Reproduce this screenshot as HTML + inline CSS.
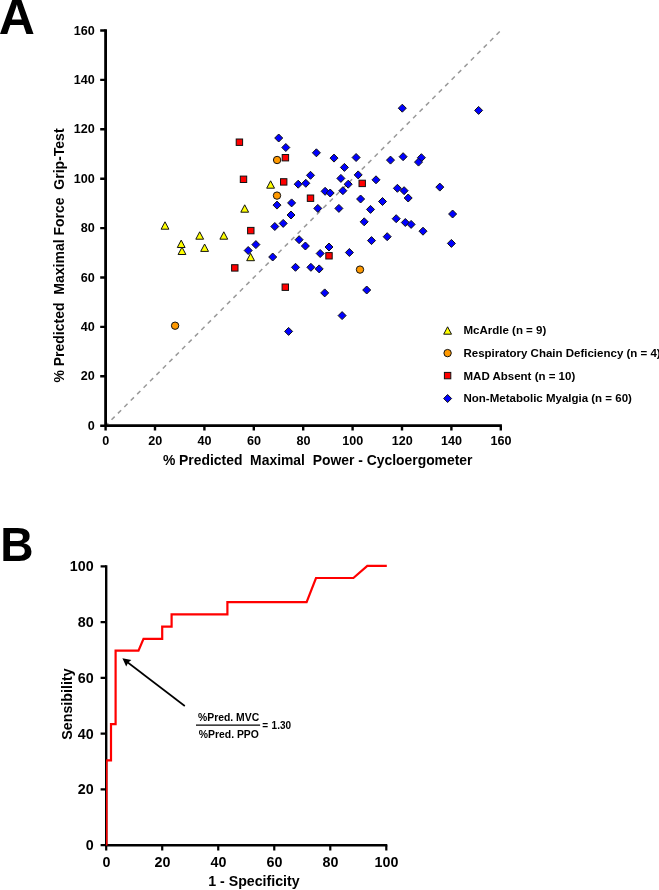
<!DOCTYPE html>
<html><head><meta charset="utf-8"><style>
html,body{margin:0;padding:0;background:#fff;}
body{width:659px;height:890px;overflow:hidden;}
svg{display:block;}
text{font-family:"Liberation Sans", sans-serif;font-weight:bold;fill:#000;}
</style></head><body>
<svg width="659" height="890" viewBox="0 0 659 890">
<defs><filter id="gs" x="-5%" y="-5%" width="110%" height="110%"><feColorMatrix type="saturate" values="0"/></filter></defs>
<rect width="659" height="890" fill="#fff"/>
<line x1="105.60" y1="425.70" x2="500.80" y2="30.50" stroke="#999" stroke-width="1.5" stroke-dasharray="4.5 4.575" stroke-dashoffset="0.725"/>
<path d="M105.60 29.30V425.70H501.90" fill="none" stroke="#000" stroke-width="2.8" stroke-linejoin="miter" stroke-linecap="butt"/>
<path d="M100.2 425.70H105.60M105.60 425.70V430.4M100.2 376.30H105.60M155.00 425.70V430.4M100.2 326.90H105.60M204.40 425.70V430.4M100.2 277.50H105.60M253.80 425.70V430.4M100.2 228.10H105.60M303.20 425.70V430.4M100.2 178.70H105.60M352.60 425.70V430.4M100.2 129.30H105.60M402.00 425.70V430.4M100.2 79.90H105.60M451.40 425.70V430.4M100.2 30.50H105.60M500.80 425.70V430.4" stroke="#000" stroke-width="2.4" fill="none"/>
<path d="M270.60 180.80L274.50 188.20L266.70 188.20Z" fill="#FFFF00" stroke="#111" stroke-width="1.0" stroke-linejoin="miter"/>
<path d="M244.70 204.80L248.60 212.20L240.80 212.20Z" fill="#FFFF00" stroke="#111" stroke-width="1.0" stroke-linejoin="miter"/>
<path d="M165.00 221.80L168.90 229.20L161.10 229.20Z" fill="#FFFF00" stroke="#111" stroke-width="1.0" stroke-linejoin="miter"/>
<path d="M199.70 231.80L203.60 239.20L195.80 239.20Z" fill="#FFFF00" stroke="#111" stroke-width="1.0" stroke-linejoin="miter"/>
<path d="M223.80 231.80L227.70 239.20L219.90 239.20Z" fill="#FFFF00" stroke="#111" stroke-width="1.0" stroke-linejoin="miter"/>
<path d="M181.20 240.10L185.10 247.50L177.30 247.50Z" fill="#FFFF00" stroke="#111" stroke-width="1.0" stroke-linejoin="miter"/>
<path d="M182.00 247.10L185.90 254.50L178.10 254.50Z" fill="#FFFF00" stroke="#111" stroke-width="1.0" stroke-linejoin="miter"/>
<path d="M204.60 244.00L208.50 251.40L200.70 251.40Z" fill="#FFFF00" stroke="#111" stroke-width="1.0" stroke-linejoin="miter"/>
<path d="M250.60 253.30L254.50 260.70L246.70 260.70Z" fill="#FFFF00" stroke="#111" stroke-width="1.0" stroke-linejoin="miter"/>
<circle cx="277.10" cy="160.00" r="3.7" fill="#FF9900" stroke="#111" stroke-width="1.0"/>
<circle cx="277.00" cy="195.60" r="3.7" fill="#FF9900" stroke="#111" stroke-width="1.0"/>
<circle cx="175.10" cy="325.70" r="3.7" fill="#FF9900" stroke="#111" stroke-width="1.0"/>
<circle cx="360.00" cy="269.60" r="3.7" fill="#FF9900" stroke="#111" stroke-width="1.0"/>
<rect x="236.20" y="139.00" width="6.4" height="6.4" fill="#FF0000" stroke="#111" stroke-width="1.0"/>
<rect x="240.30" y="176.10" width="6.4" height="6.4" fill="#FF0000" stroke="#111" stroke-width="1.0"/>
<rect x="247.60" y="227.40" width="6.4" height="6.4" fill="#FF0000" stroke="#111" stroke-width="1.0"/>
<rect x="231.60" y="264.70" width="6.4" height="6.4" fill="#FF0000" stroke="#111" stroke-width="1.0"/>
<rect x="282.20" y="154.50" width="6.4" height="6.4" fill="#FF0000" stroke="#111" stroke-width="1.0"/>
<rect x="280.50" y="178.70" width="6.4" height="6.4" fill="#FF0000" stroke="#111" stroke-width="1.0"/>
<rect x="359.00" y="180.20" width="6.4" height="6.4" fill="#FF0000" stroke="#111" stroke-width="1.0"/>
<rect x="307.30" y="195.00" width="6.4" height="6.4" fill="#FF0000" stroke="#111" stroke-width="1.0"/>
<rect x="325.80" y="252.60" width="6.4" height="6.4" fill="#FF0000" stroke="#111" stroke-width="1.0"/>
<rect x="282.10" y="284.00" width="6.4" height="6.4" fill="#FF0000" stroke="#111" stroke-width="1.0"/>
<path d="M278.70 134.00L282.70 138.00L278.70 142.00L274.70 138.00Z" fill="#0000FF" stroke="#111" stroke-width="1.0"/>
<path d="M285.80 143.50L289.80 147.50L285.80 151.50L281.80 147.50Z" fill="#0000FF" stroke="#111" stroke-width="1.0"/>
<path d="M316.40 148.80L320.40 152.80L316.40 156.80L312.40 152.80Z" fill="#0000FF" stroke="#111" stroke-width="1.0"/>
<path d="M334.00 154.10L338.00 158.10L334.00 162.10L330.00 158.10Z" fill="#0000FF" stroke="#111" stroke-width="1.0"/>
<path d="M356.10 153.50L360.10 157.50L356.10 161.50L352.10 157.50Z" fill="#0000FF" stroke="#111" stroke-width="1.0"/>
<path d="M390.50 156.10L394.50 160.10L390.50 164.10L386.50 160.10Z" fill="#0000FF" stroke="#111" stroke-width="1.0"/>
<path d="M344.40 163.40L348.40 167.40L344.40 171.40L340.40 167.40Z" fill="#0000FF" stroke="#111" stroke-width="1.0"/>
<path d="M310.50 171.30L314.50 175.30L310.50 179.30L306.50 175.30Z" fill="#0000FF" stroke="#111" stroke-width="1.0"/>
<path d="M340.90 174.40L344.90 178.40L340.90 182.40L336.90 178.40Z" fill="#0000FF" stroke="#111" stroke-width="1.0"/>
<path d="M358.20 170.90L362.20 174.90L358.20 178.90L354.20 174.90Z" fill="#0000FF" stroke="#111" stroke-width="1.0"/>
<path d="M376.00 175.80L380.00 179.80L376.00 183.80L372.00 179.80Z" fill="#0000FF" stroke="#111" stroke-width="1.0"/>
<path d="M298.20 180.20L302.20 184.20L298.20 188.20L294.20 184.20Z" fill="#0000FF" stroke="#111" stroke-width="1.0"/>
<path d="M305.80 179.30L309.80 183.30L305.80 187.30L301.80 183.30Z" fill="#0000FF" stroke="#111" stroke-width="1.0"/>
<path d="M348.20 180.20L352.20 184.20L348.20 188.20L344.20 184.20Z" fill="#0000FF" stroke="#111" stroke-width="1.0"/>
<path d="M325.10 187.30L329.10 191.30L325.10 195.30L321.10 191.30Z" fill="#0000FF" stroke="#111" stroke-width="1.0"/>
<path d="M330.20 189.00L334.20 193.00L330.20 197.00L326.20 193.00Z" fill="#0000FF" stroke="#111" stroke-width="1.0"/>
<path d="M342.90 186.70L346.90 190.70L342.90 194.70L338.90 190.70Z" fill="#0000FF" stroke="#111" stroke-width="1.0"/>
<path d="M360.60 195.00L364.60 199.00L360.60 203.00L356.60 199.00Z" fill="#0000FF" stroke="#111" stroke-width="1.0"/>
<path d="M382.50 197.50L386.50 201.50L382.50 205.50L378.50 201.50Z" fill="#0000FF" stroke="#111" stroke-width="1.0"/>
<path d="M277.00 201.10L281.00 205.10L277.00 209.10L273.00 205.10Z" fill="#0000FF" stroke="#111" stroke-width="1.0"/>
<path d="M291.60 198.90L295.60 202.90L291.60 206.90L287.60 202.90Z" fill="#0000FF" stroke="#111" stroke-width="1.0"/>
<path d="M317.80 204.40L321.80 208.40L317.80 212.40L313.80 208.40Z" fill="#0000FF" stroke="#111" stroke-width="1.0"/>
<path d="M338.90 204.40L342.90 208.40L338.90 212.40L334.90 208.40Z" fill="#0000FF" stroke="#111" stroke-width="1.0"/>
<path d="M370.50 205.40L374.50 209.40L370.50 213.40L366.50 209.40Z" fill="#0000FF" stroke="#111" stroke-width="1.0"/>
<path d="M291.00 211.00L295.00 215.00L291.00 219.00L287.00 215.00Z" fill="#0000FF" stroke="#111" stroke-width="1.0"/>
<path d="M364.20 217.80L368.20 221.80L364.20 225.80L360.20 221.80Z" fill="#0000FF" stroke="#111" stroke-width="1.0"/>
<path d="M283.20 219.40L287.20 223.40L283.20 227.40L279.20 223.40Z" fill="#0000FF" stroke="#111" stroke-width="1.0"/>
<path d="M274.80 222.50L278.80 226.50L274.80 230.50L270.80 226.50Z" fill="#0000FF" stroke="#111" stroke-width="1.0"/>
<path d="M402.30 104.20L406.30 108.20L402.30 112.20L398.30 108.20Z" fill="#0000FF" stroke="#111" stroke-width="1.0"/>
<path d="M478.60 106.40L482.60 110.40L478.60 114.40L474.60 110.40Z" fill="#0000FF" stroke="#111" stroke-width="1.0"/>
<path d="M403.10 152.70L407.10 156.70L403.10 160.70L399.10 156.70Z" fill="#0000FF" stroke="#111" stroke-width="1.0"/>
<path d="M421.40 153.70L425.40 157.70L421.40 161.70L417.40 157.70Z" fill="#0000FF" stroke="#111" stroke-width="1.0"/>
<path d="M418.50 158.10L422.50 162.10L418.50 166.10L414.50 162.10Z" fill="#0000FF" stroke="#111" stroke-width="1.0"/>
<path d="M397.40 184.30L401.40 188.30L397.40 192.30L393.40 188.30Z" fill="#0000FF" stroke="#111" stroke-width="1.0"/>
<path d="M404.10 186.70L408.10 190.70L404.10 194.70L400.10 190.70Z" fill="#0000FF" stroke="#111" stroke-width="1.0"/>
<path d="M408.20 194.00L412.20 198.00L408.20 202.00L404.20 198.00Z" fill="#0000FF" stroke="#111" stroke-width="1.0"/>
<path d="M439.80 183.10L443.80 187.10L439.80 191.10L435.80 187.10Z" fill="#0000FF" stroke="#111" stroke-width="1.0"/>
<path d="M452.60 210.00L456.60 214.00L452.60 218.00L448.60 214.00Z" fill="#0000FF" stroke="#111" stroke-width="1.0"/>
<path d="M396.20 214.70L400.20 218.70L396.20 222.70L392.20 218.70Z" fill="#0000FF" stroke="#111" stroke-width="1.0"/>
<path d="M405.30 218.50L409.30 222.50L405.30 226.50L401.30 222.50Z" fill="#0000FF" stroke="#111" stroke-width="1.0"/>
<path d="M411.10 220.40L415.10 224.40L411.10 228.40L407.10 224.40Z" fill="#0000FF" stroke="#111" stroke-width="1.0"/>
<path d="M255.90 240.60L259.90 244.60L255.90 248.60L251.90 244.60Z" fill="#0000FF" stroke="#111" stroke-width="1.0"/>
<path d="M248.20 246.50L252.20 250.50L248.20 254.50L244.20 250.50Z" fill="#0000FF" stroke="#111" stroke-width="1.0"/>
<path d="M272.70 253.00L276.70 257.00L272.70 261.00L268.70 257.00Z" fill="#0000FF" stroke="#111" stroke-width="1.0"/>
<path d="M371.50 236.60L375.50 240.60L371.50 244.60L367.50 240.60Z" fill="#0000FF" stroke="#111" stroke-width="1.0"/>
<path d="M387.20 232.70L391.20 236.70L387.20 240.70L383.20 236.70Z" fill="#0000FF" stroke="#111" stroke-width="1.0"/>
<path d="M299.10 235.70L303.10 239.70L299.10 243.70L295.10 239.70Z" fill="#0000FF" stroke="#111" stroke-width="1.0"/>
<path d="M305.40 242.00L309.40 246.00L305.40 250.00L301.40 246.00Z" fill="#0000FF" stroke="#111" stroke-width="1.0"/>
<path d="M329.00 243.00L333.00 247.00L329.00 251.00L325.00 247.00Z" fill="#0000FF" stroke="#111" stroke-width="1.0"/>
<path d="M320.20 249.50L324.20 253.50L320.20 257.50L316.20 253.50Z" fill="#0000FF" stroke="#111" stroke-width="1.0"/>
<path d="M349.40 248.50L353.40 252.50L349.40 256.50L345.40 252.50Z" fill="#0000FF" stroke="#111" stroke-width="1.0"/>
<path d="M295.50 263.30L299.50 267.30L295.50 271.30L291.50 267.30Z" fill="#0000FF" stroke="#111" stroke-width="1.0"/>
<path d="M310.90 263.30L314.90 267.30L310.90 271.30L306.90 267.30Z" fill="#0000FF" stroke="#111" stroke-width="1.0"/>
<path d="M319.20 264.90L323.20 268.90L319.20 272.90L315.20 268.90Z" fill="#0000FF" stroke="#111" stroke-width="1.0"/>
<path d="M366.70 286.00L370.70 290.00L366.70 294.00L362.70 290.00Z" fill="#0000FF" stroke="#111" stroke-width="1.0"/>
<path d="M324.70 288.90L328.70 292.90L324.70 296.90L320.70 292.90Z" fill="#0000FF" stroke="#111" stroke-width="1.0"/>
<path d="M342.10 311.60L346.10 315.60L342.10 319.60L338.10 315.60Z" fill="#0000FF" stroke="#111" stroke-width="1.0"/>
<path d="M288.60 327.40L292.60 331.40L288.60 335.40L284.60 331.40Z" fill="#0000FF" stroke="#111" stroke-width="1.0"/>
<path d="M423.00 227.20L427.00 231.20L423.00 235.20L419.00 231.20Z" fill="#0000FF" stroke="#111" stroke-width="1.0"/>
<path d="M451.40 239.40L455.40 243.40L451.40 247.40L447.40 243.40Z" fill="#0000FF" stroke="#111" stroke-width="1.0"/>
<path d="M447.60 326.80L451.50 334.20L443.70 334.20Z" fill="#FFFF00" stroke="#111" stroke-width="1.0" stroke-linejoin="miter"/>
<circle cx="447.60" cy="353.10" r="3.7" fill="#FF9900" stroke="#111" stroke-width="1.0"/>
<rect x="444.40" y="372.40" width="6.4" height="6.4" fill="#FF0000" stroke="#111" stroke-width="1.0"/>
<path d="M447.60 394.50L451.60 398.50L447.60 402.50L443.60 398.50Z" fill="#0000FF" stroke="#111" stroke-width="1.0"/>
<path d="M106.20 565.30V845.20H387.30" fill="none" stroke="#000" stroke-width="2.4"/>
<path d="M100.6 845.20H106.20M106.20 845.20V850.6M100.6 789.44H106.20M162.22 845.20V850.6M100.6 733.68H106.20M218.24 845.20V850.6M100.6 677.92H106.20M274.26 845.20V850.6M100.6 622.16H106.20M330.28 845.20V850.6M100.6 566.40H106.20M386.30 845.20V850.6" stroke="#000" stroke-width="2.2" fill="none"/>
<path d="M106.20 760.40L111.00 760.40L111.00 724.20L115.60 724.20L115.60 650.60L138.50 650.60L143.50 638.80L162.20 638.80L162.20 626.60L171.60 626.60L171.60 614.30L227.40 614.30L227.40 602.20L306.60 602.20L316.00 578.00L353.40 578.00L367.30 565.90L386.80 565.90" fill="none" stroke="#FF0000" stroke-width="2.2" stroke-linejoin="miter"/>
<path d="M106.8 845.6V760.4" stroke="#FF0000" stroke-width="1.5" fill="none"/>
<line x1="184.8" y1="706.0" x2="126.5" y2="661.5" stroke="#000" stroke-width="1.6"/>
<path d="M122.4 658.3L131.4 660.0L128.2 662.4L126.2 666.6Z" fill="#000"/>
<line x1="196" y1="725.1" x2="260.1" y2="725.1" stroke="#000" stroke-width="1.2"/>
<g filter="url(#gs)"><text x="-1.3" y="33.7" font-size="50">A</text>
<text x="94.8" y="429.80" font-size="12.6" text-anchor="end">0</text>
<text x="105.80" y="444.8" font-size="12.6" text-anchor="middle">0</text>
<text x="94.8" y="380.40" font-size="12.6" text-anchor="end">20</text>
<text x="155.20" y="444.8" font-size="12.6" text-anchor="middle">20</text>
<text x="94.8" y="331.00" font-size="12.6" text-anchor="end">40</text>
<text x="204.60" y="444.8" font-size="12.6" text-anchor="middle">40</text>
<text x="94.8" y="281.60" font-size="12.6" text-anchor="end">60</text>
<text x="254.00" y="444.8" font-size="12.6" text-anchor="middle">60</text>
<text x="94.8" y="232.20" font-size="12.6" text-anchor="end">80</text>
<text x="303.40" y="444.8" font-size="12.6" text-anchor="middle">80</text>
<text x="94.8" y="182.80" font-size="12.6" text-anchor="end">100</text>
<text x="352.80" y="444.8" font-size="12.6" text-anchor="middle">100</text>
<text x="94.8" y="133.40" font-size="12.6" text-anchor="end">120</text>
<text x="402.20" y="444.8" font-size="12.6" text-anchor="middle">120</text>
<text x="94.8" y="84.00" font-size="12.6" text-anchor="end">140</text>
<text x="451.60" y="444.8" font-size="12.6" text-anchor="middle">140</text>
<text x="94.8" y="34.60" font-size="12.6" text-anchor="end">160</text>
<text x="501.00" y="444.8" font-size="12.6" text-anchor="middle">160</text>
<text x="162.9" y="464.8" font-size="13.9" xml:space="preserve">% Predicted  Maximal  Power - Cycloergometer</text>
<text transform="translate(64.2 382.6) rotate(-90)" x="0" y="0" font-size="14" xml:space="preserve">% Predicted  Maximal Force  Grip-Test</text>
<text x="463.5" y="334.20" font-size="11.5">McArdle (n = 9)</text>
<text x="463.5" y="356.85" font-size="11.5">Respiratory Chain Deficiency (n = 4)</text>
<text x="463.5" y="379.50" font-size="11.5">MAD Absent (n = 10)</text>
<text x="463.5" y="402.15" font-size="11.5">Non-Metabolic Myalgia (n = 60)</text>
<text transform="translate(0.2 561) scale(0.955 1)" font-size="48.3">B</text>
<text x="93.7" y="850.10" font-size="14.3" text-anchor="end">0</text>
<text x="106.40" y="867.4" font-size="14.3" text-anchor="middle">0</text>
<text x="93.7" y="794.34" font-size="14.3" text-anchor="end">20</text>
<text x="162.42" y="867.4" font-size="14.3" text-anchor="middle">20</text>
<text x="93.7" y="738.58" font-size="14.3" text-anchor="end">40</text>
<text x="218.44" y="867.4" font-size="14.3" text-anchor="middle">40</text>
<text x="93.7" y="682.82" font-size="14.3" text-anchor="end">60</text>
<text x="274.46" y="867.4" font-size="14.3" text-anchor="middle">60</text>
<text x="93.7" y="627.06" font-size="14.3" text-anchor="end">80</text>
<text x="330.48" y="867.4" font-size="14.3" text-anchor="middle">80</text>
<text x="93.7" y="571.30" font-size="14.3" text-anchor="end">100</text>
<text x="386.50" y="867.4" font-size="14.3" text-anchor="middle">100</text>
<text x="208.2" y="885.9" font-size="14.2" xml:space="preserve">1 - Specificity</text>
<text transform="translate(71.8 739.8) rotate(-90)" font-size="14.3">Sensibility</text>
<text x="198.0" y="720.6" font-size="10.4">%Pred. MVC</text>
<text x="198.8" y="737.6" font-size="10.4">%Pred. PPO</text>
<text x="262.2" y="728.5" font-size="10">=</text>
<text x="271.6" y="728.5" font-size="10">1.30</text>
</g>
</svg></body></html>
